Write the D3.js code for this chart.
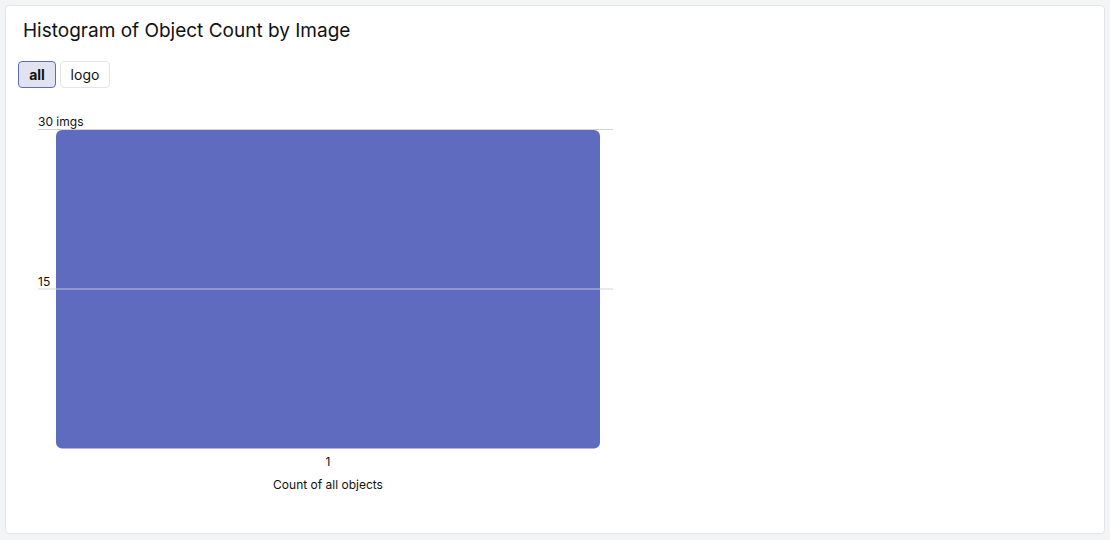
<!DOCTYPE html>
<html>
<head>
<meta charset="utf-8">
<script src="https://cdn.jsdelivr.net/npm/d3@7"></script>
<style>
  html, body { margin: 0; padding: 0; background: #f3f4f6; font-family: Inter, "Noto Sans", sans-serif; }
  #card { position: absolute; left: 5px; top: 5px; width: 1098px; height: 527px; background: #fff; border: 1px solid #e3e5e8; border-radius: 4px; }
  #title { position: absolute; left: 17px; top: 13px; font-size: 19px; color: #111; margin: 0; font-weight: 400; }
  .btn { position: absolute; top: 55px; height: 25px; box-sizing: content-box; border: 1px solid #e3e5e8; border-radius: 4px; background: #fff; font-size: 14px; line-height: 26px; text-align: center; color: #111; }
  .btn.active { background: #e1e3f1; border-color: #5c6bc0; font-weight: 700; }
  svg { position: absolute; left: 0; top: 0; }
</style>
</head>
<body>
<script>
const title = "Histogram of Object Count by Image";
const filters = ["all", "logo"];
const categories = ["1"];
const values = [30];
const yTicks = [15, 30];
const yTickLabels = ["15", "30 imgs"];
const xLabel = "Count of all objects";

const card = d3.select("body").append("div").attr("id", "card");
card.append("div").attr("id", "title").text(title);
const btnPos = [{l: 12, w: 36}, {l: 54, w: 48}];
card.selectAll(".btn").data(filters).join("div")
  .attr("class", (d, i) => "btn" + (i === 0 ? " active" : ""))
  .style("left", (d, i) => btnPos[i].l + "px")
  .style("width", (d, i) => btnPos[i].w + "px")
  .text(d => d);

const svg = d3.select("body").append("svg").attr("width", 1110).attr("height", 540);
const x = d3.scaleBand().domain(categories).range([56, 600]).padding(0);
const y = d3.scaleLinear().domain([0, 30]).range([448.5, 129.5]);

svg.selectAll("rect.bar").data(values).join("rect")
  .attr("class", "bar")
  .attr("x", (d, i) => x(categories[i]))
  .attr("y", d => y(d) + 0.5)
  .attr("width", x.bandwidth())
  .attr("height", d => y(0) - y(d) - 0.5)
  .attr("rx", 6).attr("ry", 6)
  .attr("fill", "#5f6bbf");

const grid = svg.append("g");
grid.selectAll("line").data(yTicks).join("line")
  .attr("x1", 38).attr("x2", 613)
  .attr("y1", d => y(d)).attr("y2", d => y(d))
  .attr("stroke", "#cfcfd4").attr("stroke-opacity", 0.9).attr("stroke-width", 1);
grid.selectAll("text").data(yTicks).join("text")
  .attr("x", 38).attr("y", d => y(d) - 3.5)
  .attr("font-size", 12).attr("fill", "#111")
  .text((d, i) => yTickLabels[i]);

svg.selectAll("text.xt").data(categories).join("text")
  .attr("class", "xt")
  .attr("x", d => x(d) + x.bandwidth() / 2)
  .attr("y", 466)
  .attr("text-anchor", "middle").attr("font-size", 12).attr("fill", "#111")
  .text(d => d);

svg.append("text")
  .attr("x", x(categories[0]) + x.bandwidth() / 2).attr("y", 489)
  .attr("text-anchor", "middle").attr("font-size", 12).attr("fill", "#111")
  .text(xLabel);
</script>
</body>
</html>
